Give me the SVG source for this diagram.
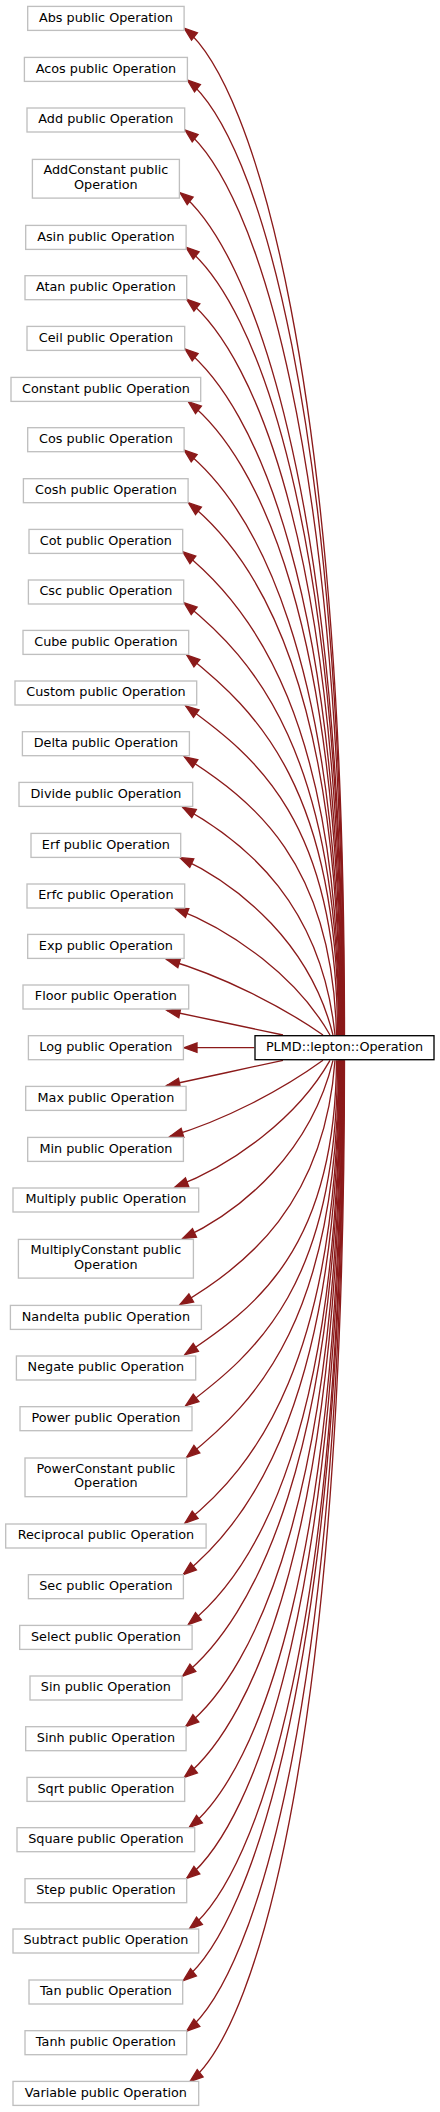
<svg xmlns="http://www.w3.org/2000/svg" width="440" height="2112" viewBox="0 0 440 2112">
<style>
.n rect{fill:#ffffff;stroke:#bfbfbf;stroke-width:1.33}
.m rect{fill:#ffffff;stroke:#000000;stroke-width:1.33}
text{font-family:"DejaVu Sans","Liberation Sans",sans-serif;font-size:12.8px;fill:#000000;text-anchor:middle}
.e path{fill:none;stroke:#8b1a1a;stroke-width:1.33;marker-end:url(#arr)}
</style>
<defs>
<marker id="arr" markerUnits="userSpaceOnUse" viewBox="-15 -7 17 14" refX="0" refY="0" markerWidth="17" markerHeight="14" orient="auto" overflow="visible">
<path d="M0,0 L-13,-4.7 L-13,4.7 Z" fill="#8b1a1a" stroke="#8b1a1a" stroke-width="1.33"/>
</marker>
</defs>
<rect width="440" height="2112" fill="#ffffff"/>
<g id="edges" class="e">
<path d="M283,1035 C244.3,1026.8 205.7,1018.6 167,1010.5"/>
<path d="M323,1035 C280.6,1005.4 222.2,976 166.7,959.5"/>
<path d="M330,1035 C297.6,977.8 233.5,930.7 175,908.3"/>
<path d="M333,1035 C310.4,944.8 241.6,886.5 180,857.7"/>
<path d="M335,1035 C321.7,905.9 247.7,843.2 182.7,807.3"/>
<path d="M336.5,1035 C332.5,861 252.8,800.5 184.3,756.7"/>
<path d="M337.5,1035 C337.5,821.1 255.7,756.7 185.7,706"/>
<path d="M338.5,1035 C338.5,788 256.7,711 186.7,655"/>
<path d="M339,1035 C339,754 254,658.7 184,602.7"/>
<path d="M339.5,1035 C339.5,720.9 252.7,607.7 182.7,551.7"/>
<path d="M340,1035 C340,689 258.3,558.7 188.3,502.7"/>
<path d="M340.5,1035 C340.5,654.8 254,506 184,450"/>
<path d="M341,1035 C341,623.4 258.3,457.7 188.3,401.7"/>
<path d="M341.5,1035 C341.5,589.1 255,405 185,349"/>
<path d="M342,1035 C342,556.8 256.7,355.3 186.7,299.3"/>
<path d="M342.5,1035 C342.5,523 256,303.3 186,247.3"/>
<path d="M343,1035 C343,487.5 250,248.7 180,192.7"/>
<path d="M343.5,1035 C343.5,446.8 255,186 185,130"/>
<path d="M344,1035 C344,414.3 257.3,136 187.3,80"/>
<path d="M344.5,1035 C344.5,380.6 254.3,84.3 184.3,28.3"/>
<path d="M254.3,1047.7 L184,1047.7"/>
<path d="M283,1060.3 C244.4,1068.7 205.3,1077.3 166.7,1085.5"/>
<path d="M323,1060.3 C281.7,1090.2 224.6,1120.2 170,1136.5"/>
<path d="M330,1060.3 C297.6,1117.5 233.5,1164.6 175,1187"/>
<path d="M333,1060.3 C310.9,1151.2 243.9,1209.7 182.7,1238.5"/>
<path d="M335,1060.3 C324.6,1203.4 246.3,1266 180,1304.5"/>
<path d="M336.5,1060.3 C335.4,1249.5 254.6,1308.2 185,1354.5"/>
<path d="M337.5,1060.3 C337.5,1284.8 255.7,1353.1 185.7,1405.7"/>
<path d="M338.5,1060.3 C338.5,1318.3 256.7,1401.3 186.7,1457.3"/>
<path d="M339,1060.3 C339,1361.1 255,1467 185,1523"/>
<path d="M339.5,1060.3 C339.5,1394.5 253.3,1518.5 183.3,1574.5"/>
<path d="M340,1060.3 C340,1427 258.3,1568.5 188.3,1624.5"/>
<path d="M340.5,1060.3 C340.5,1460.5 252.7,1620 182.7,1676"/>
<path d="M341,1060.3 C341,1493.3 255.7,1670.5 185.7,1726.5"/>
<path d="M341.5,1060.3 C341.5,1526.3 254.3,1721.3 184.3,1777.3"/>
<path d="M342,1060.3 C342,1558.8 259.3,1771.3 189.3,1827.3"/>
<path d="M342.5,1060.3 C342.5,1592 256.7,1822.3 186.7,1878.3"/>
<path d="M343,1060.3 C343,1625 259.3,1873 189.3,1929"/>
<path d="M343.5,1060.3 C343.5,1658.4 253.3,1924.5 183.3,1980.5"/>
<path d="M344,1060.3 C344,1691.3 256.7,1975 186.7,2031"/>
<path d="M344.5,1060.3 C344.5,1724.1 260,2025.5 190,2081.5"/>
</g>
<g id="main" class="m"><rect x="255" y="1035.7" width="179" height="24"/><text x="344.5" y="1051">PLMD::lepton::Operation</text></g>
<g id="abs" class="n"><rect x="27.7" y="6.4" width="156.4" height="24"/><text x="105.9" y="21.7">Abs public Operation</text></g>
<g id="acos" class="n"><rect x="24.4" y="57.4" width="163" height="24"/><text x="105.9" y="72.7">Acos public Operation</text></g>
<g id="add" class="n"><rect x="27" y="108" width="157.7" height="24"/><text x="105.9" y="123.3">Add public Operation</text></g>
<g id="addconstant" class="n"><rect x="32.4" y="159.4" width="147" height="38.7"/><text x="105.9" y="174.3">AddConstant public</text><text x="105.9" y="188.7">Operation</text></g>
<g id="asin" class="n"><rect x="25.7" y="225.4" width="160.4" height="24"/><text x="105.9" y="240.7">Asin public Operation</text></g>
<g id="atan" class="n"><rect x="25" y="275.7" width="161.7" height="24"/><text x="105.9" y="291">Atan public Operation</text></g>
<g id="ceil" class="n"><rect x="27" y="326.4" width="157.7" height="24"/><text x="105.9" y="341.7">Ceil public Operation</text></g>
<g id="constant" class="n"><rect x="11" y="377.4" width="189.7" height="24"/><text x="105.9" y="392.7">Constant public Operation</text></g>
<g id="cos" class="n"><rect x="27.7" y="427.7" width="156.4" height="24"/><text x="105.9" y="443">Cos public Operation</text></g>
<g id="cosh" class="n"><rect x="23.4" y="478.7" width="164.7" height="24"/><text x="105.9" y="494">Cosh public Operation</text></g>
<g id="cot" class="n"><rect x="29" y="529.4" width="153.7" height="24"/><text x="105.9" y="544.7">Cot public Operation</text></g>
<g id="csc" class="n"><rect x="28.4" y="580" width="155.3" height="24"/><text x="105.9" y="595.3">Csc public Operation</text></g>
<g id="cube" class="n"><rect x="23" y="630.4" width="165.7" height="24"/><text x="105.9" y="645.7">Cube public Operation</text></g>
<g id="custom" class="n"><rect x="15" y="681" width="181.7" height="24"/><text x="105.9" y="696.3">Custom public Operation</text></g>
<g id="delta" class="n"><rect x="22.4" y="731.7" width="167" height="24"/><text x="105.9" y="747">Delta public Operation</text></g>
<g id="divide" class="n"><rect x="19" y="782.4" width="173.7" height="24"/><text x="105.9" y="797.7">Divide public Operation</text></g>
<g id="erf" class="n"><rect x="31" y="833.4" width="149.7" height="24"/><text x="105.9" y="848.7">Erf public Operation</text></g>
<g id="erfc" class="n"><rect x="27" y="884" width="157.7" height="24"/><text x="105.9" y="899.3">Erfc public Operation</text></g>
<g id="exp" class="n"><rect x="27.7" y="934.4" width="156.4" height="24"/><text x="105.9" y="949.7">Exp public Operation</text></g>
<g id="floor" class="n"><rect x="23" y="985" width="165.7" height="24"/><text x="105.9" y="1000.3">Floor public Operation</text></g>
<g id="log" class="n"><rect x="28.4" y="1035.7" width="155" height="24"/><text x="105.9" y="1051">Log public Operation</text></g>
<g id="max" class="n"><rect x="25.7" y="1086.4" width="160.4" height="24"/><text x="105.9" y="1101.7">Max public Operation</text></g>
<g id="min" class="n"><rect x="27.7" y="1137.4" width="155.7" height="24"/><text x="105.9" y="1152.7">Min public Operation</text></g>
<g id="multiply" class="n"><rect x="13" y="1188" width="185.7" height="24"/><text x="105.9" y="1203.3">Multiply public Operation</text></g>
<g id="multiplyconstant" class="n"><rect x="18.4" y="1239.4" width="175" height="38.7"/><text x="105.9" y="1254.3">MultiplyConstant public</text><text x="105.9" y="1268.7">Operation</text></g>
<g id="nandelta" class="n"><rect x="10.4" y="1305.4" width="191" height="24"/><text x="105.9" y="1320.7">Nandelta public Operation</text></g>
<g id="negate" class="n"><rect x="16.4" y="1356" width="179.3" height="24"/><text x="105.9" y="1371.3">Negate public Operation</text></g>
<g id="power" class="n"><rect x="20" y="1406.7" width="172" height="24"/><text x="105.9" y="1422">Power public Operation</text></g>
<g id="powerconstant" class="n"><rect x="25" y="1458" width="161.7" height="38.7"/><text x="105.9" y="1472.9">PowerConstant public</text><text x="105.9" y="1487.3">Operation</text></g>
<g id="reciprocal" class="n"><rect x="5.7" y="1524" width="200.4" height="24"/><text x="105.9" y="1539.3">Reciprocal public Operation</text></g>
<g id="sec" class="n"><rect x="28.4" y="1574.7" width="155" height="24"/><text x="105.9" y="1590">Sec public Operation</text></g>
<g id="select" class="n"><rect x="19.7" y="1625.4" width="172.4" height="24"/><text x="105.9" y="1640.7">Select public Operation</text></g>
<g id="sin" class="n"><rect x="30" y="1676" width="152.1" height="24"/><text x="105.9" y="1691.3">Sin public Operation</text></g>
<g id="sinh" class="n"><rect x="25.7" y="1726.7" width="160.4" height="24"/><text x="105.9" y="1742">Sinh public Operation</text></g>
<g id="sqrt" class="n"><rect x="27" y="1777.4" width="157.7" height="24"/><text x="105.9" y="1792.7">Sqrt public Operation</text></g>
<g id="square" class="n"><rect x="17" y="1827.7" width="177.7" height="24"/><text x="105.9" y="1843">Square public Operation</text></g>
<g id="step" class="n"><rect x="25" y="1878.7" width="161.7" height="24"/><text x="105.9" y="1894">Step public Operation</text></g>
<g id="subtract" class="n"><rect x="13" y="1929" width="185.7" height="24"/><text x="105.9" y="1944.3">Subtract public Operation</text></g>
<g id="tan" class="n"><rect x="29" y="1980" width="153.7" height="24"/><text x="105.9" y="1995.3">Tan public Operation</text></g>
<g id="tanh" class="n"><rect x="25" y="2030.7" width="161.7" height="24"/><text x="105.9" y="2046">Tanh public Operation</text></g>
<g id="variable" class="n"><rect x="13" y="2081.4" width="185.7" height="24"/><text x="105.9" y="2096.7">Variable public Operation</text></g>
</svg>
